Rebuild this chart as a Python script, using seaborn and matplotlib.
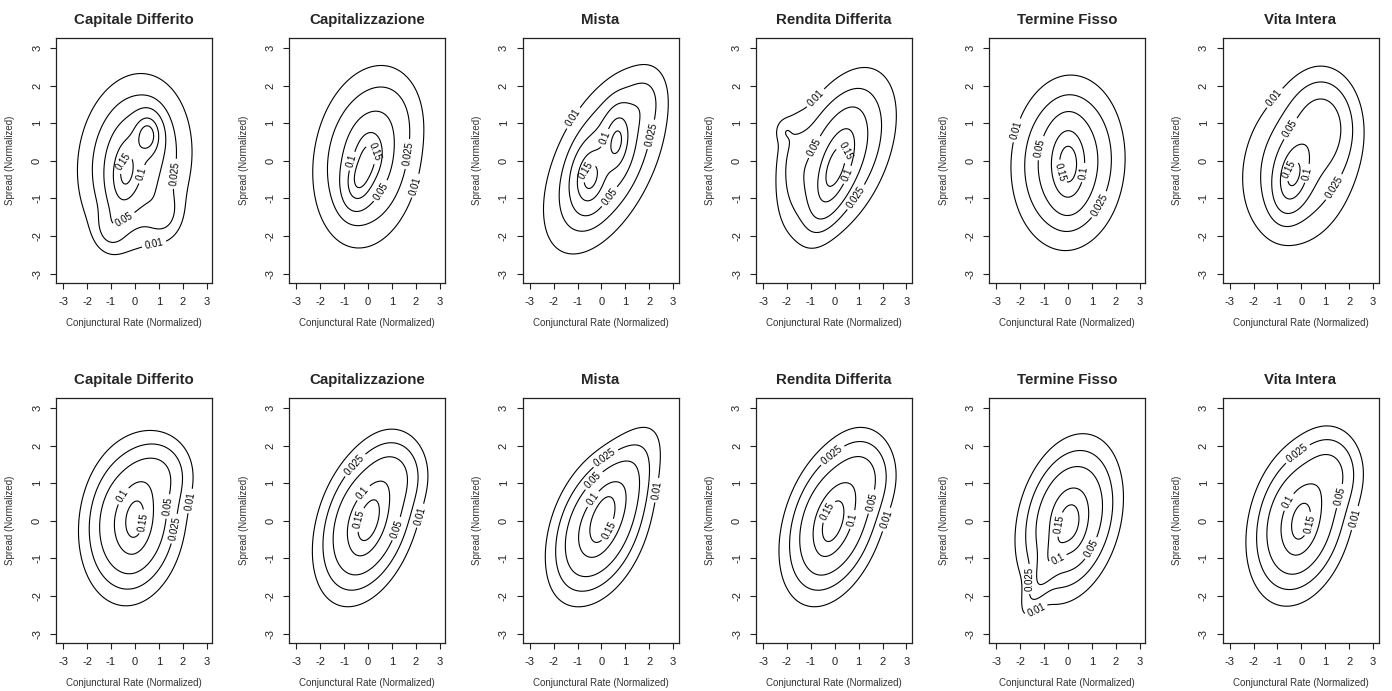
import numpy as np
import matplotlib
matplotlib.use("Agg")
import matplotlib.pyplot as plt
import seaborn as sns

titles = ["Capitale Differito", "Capitalizzazione", "Mista",
          "Rendita Differita", "Termine Fisso", "Vita Intera"]
levels = [0.01, 0.025, 0.05, 0.1, 0.15]
ticks = [-3, -2, -1, 0, 1, 2, 3]

# Density of each panel as a small gaussian mixture
# columns: weight, mean x, mean y, sd x, sd y, correlation
# upper row
top_capitale_differito = [
    [0.12, -0.40, -0.35, 0.40, 0.60, 0.20],
    [0.09, 0.55, 0.70, 0.35, 0.35, 0.00],
    [0.12, -0.10, -0.10, 0.75, 0.85, 0.20],
    [0.58, 0.00, 0.00, 1.25, 1.20, 0.10],
    [0.025, 1.20, -1.40, 0.45, 0.40, 0.00],
    [0.02, -1.00, -1.80, 0.40, 0.35, 0.00],
]
top_capitalizzazione = [
    [0.10, 0.05, 0.15, 0.40, 0.45, 0.10],
    [0.09, -0.40, -0.55, 0.38, 0.42, 0.20],
    [0.04, 1.00, 1.30, 0.80, 0.70, 0.00],
    [0.60, -0.05, 0.05, 1.15, 1.20, 0.15],
]
top_mista = [
    [0.14, -0.50, -0.45, 0.42, 0.50, 0.20],
    [0.11, 0.65, 0.55, 0.35, 0.50, 0.20],
    [0.62, 0.15, 0.00, 1.30, 1.25, 0.52],
    [0.025, 1.70, 1.50, 0.50, 0.50, 0.30],
]
top_rendita_differita = [
    [0.22, 0.00, -0.25, 0.55, 0.75, 0.60],
    [0.60, 0.15, 0.15, 1.20, 1.15, 0.45],
    [0.04, -1.70, 0.00, 0.45, 0.80, 0.00],
    [0.004, -2.10, 0.80, 0.25, 0.20, 0.00],
]
top_termine_fisso = [
    [0.17, 0.00, -0.10, 0.45, 0.65, 0.00],
    [0.70, 0.00, -0.05, 1.15, 1.12, 0.05],
]
top_vita_intera = [
    [0.17, -0.35, -0.40, 0.45, 0.55, 0.30],
    [0.20, 0.90, 1.00, 0.80, 0.75, 0.00],
    [0.48, -0.10, -0.15, 1.30, 1.15, 0.15],
]

# lower row
bot_capitale_differito = [
    [0.80, -0.10, 0.00, 1.00, 1.00, 0.12],
    [0.085, 1.10, 1.30, 0.75, 0.55, 0.00],
    [0.07, 0.05, 0.05, 0.40, 0.60, 0.20],
]
bot_capitalizzazione = [
    [0.80, -0.05, 0.00, 1.00, 1.00, 0.35],
    [0.07, 1.20, 1.30, 0.70, 0.55, 0.00],
    [0.06, 0.05, 0.00, 0.40, 0.55, 0.50],
]
bot_mista = [
    [0.65, -0.10, -0.15, 1.00, 0.95, 0.35],
    [0.25, 0.50, 0.55, 1.00, 1.00, 0.70],
    [0.03, 0.05, 0.05, 0.30, 0.45, 0.50],
]
bot_rendita_differita = [
    [0.80, -0.05, 0.00, 1.00, 1.00, 0.35],
    [0.08, 1.30, 1.30, 0.70, 0.60, 0.00],
    [0.06, -0.10, -0.05, 0.40, 0.55, 0.50],
]
bot_termine_fisso = [
    [0.80, 0.05, 0.05, 1.00, 1.00, 0.25],
    [0.06, -0.80, -1.10, 0.60, 0.75, 0.85],
    [0.05, 0.10, -0.10, 0.40, 0.50, 0.00],
]
bot_vita_intera = [
    [0.80, -0.05, 0.00, 1.00, 1.00, 0.25],
    [0.10, 1.30, 1.35, 0.70, 0.60, 0.00],
    [0.06, 0.00, -0.05, 0.40, 0.55, 0.30],
]

top_row = [top_capitale_differito, top_capitalizzazione, top_mista,
           top_rendita_differita, top_termine_fisso, top_vita_intera]
bottom_row = [bot_capitale_differito, bot_capitalizzazione, bot_mista,
              bot_rendita_differita, bot_termine_fisso, bot_vita_intera]


# Evaluate the mixture on a grid
def mixture_density(components, xx, yy):
    zz = np.zeros_like(xx)
    for w, mx, my, sx, sy, rho in components:
        u = (xx - mx) / sx
        v = (yy - my) / sy
        q = (u ** 2 - 2 * rho * u * v + v ** 2) / (1 - rho ** 2)
        zz += w * np.exp(-q / 2) / (2 * np.pi * sx * sy * np.sqrt(1 - rho ** 2))
    return zz


# One contour panel in R-like look
def plot_panel(ax, components, title, xx, yy):
    zz = mixture_density(components, xx, yy)
    cs = ax.contour(xx, yy, zz, levels=levels, colors="black", linewidths=0.8)
    ax.clabel(cs, fmt="%g", fontsize=7, inline=True, inline_spacing=3)

    ax.set_xlim(-3.3, 3.23)
    ax.set_ylim(-3.25, 3.27)
    ax.set_xticks(ticks)
    ax.set_yticks(ticks)
    ax.set_xticklabels([str(t) for t in ticks])
    ax.set_yticklabels([str(t) for t in ticks], rotation=90, va="center")
    ax.tick_params(axis="both", labelsize=8, length=4, width=0.8,
                   colors="#222222", pad=6)
    ax.set_title(title, fontweight="bold", fontsize=10.8, pad=10)
    ax.set_xlabel("Conjunctural Rate (Normalized)", fontsize=7,
                  color="#333333", labelpad=8)
    ax.set_ylabel("Spread (Normalized)", fontsize=7, color="#333333",
                  labelpad=12)
    for spine in ax.spines.values():
        spine.set_color("#222222")
        spine.set_linewidth(0.9)


def main():
    sns.set_theme(style="ticks")
    plt.rcParams["font.family"] = ["Liberation Sans", "DejaVu Sans"]

    gx = np.linspace(-3.3, 3.25, 320)
    gy = np.linspace(-3.25, 3.3, 320)
    xx, yy = np.meshgrid(gx, gy)

    fig = plt.figure(figsize=(13.92, 6.91), dpi=100)
    for row, panels in enumerate([top_row, bottom_row]):
        box_bottom = 283 if row == 0 else 643
        for col, comps in enumerate(panels):
            left = (56 + 233.3 * col) / 1392
            ax = fig.add_axes([left, 1 - box_bottom / 691, 156 / 1392, 245 / 691])
            plot_panel(ax, comps, titles[col], xx, yy)

    fig.savefig("out.png", dpi=100, facecolor="white")


if __name__ == "__main__":
    main()
